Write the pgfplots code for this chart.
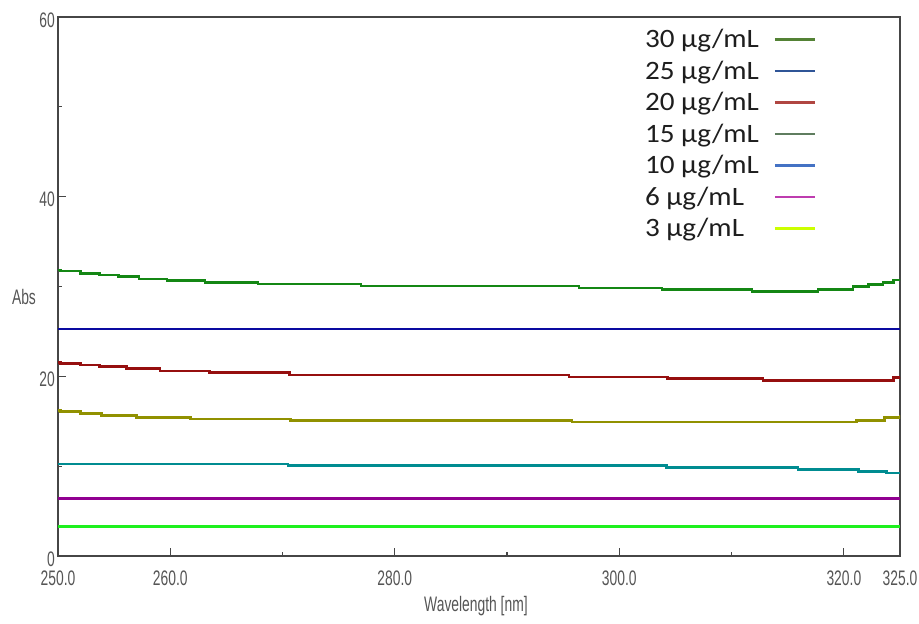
\documentclass[border=0pt]{standalone}
\usepackage{fontspec}
\usepackage{pgfplots}
\usepackage{pgfplotstable}
\pgfplotsset{compat=1.18}
\newfontfamily\tickfont[FakeStretch=0.66]{Liberation Sans}
\newfontfamily\legfont[FakeStretch=1.1]{Carlito}

\definecolor{tickgray}{RGB}{85,85,85}
\definecolor{axgray}{RGB}{70,70,70}
\definecolor{cA}{RGB}{20,135,20}
\definecolor{cB}{RGB}{10,10,160}
\definecolor{cC}{RGB}{150,15,15}
\definecolor{cD}{RGB}{145,145,0}
\definecolor{cE}{RGB}{0,140,145}
\definecolor{cF}{RGB}{145,0,145}
\definecolor{cG}{RGB}{30,240,30}
\definecolor{lA}{RGB}{84,130,53}
\definecolor{lB}{RGB}{47,85,151}
\definecolor{lC}{RGB}{176,70,65}
\definecolor{lD}{RGB}{95,125,95}
\definecolor{lE}{RGB}{68,114,196}
\definecolor{lF}{RGB}{190,60,175}
\definecolor{lG}{RGB}{204,255,0}

\pgfplotstableread{
x y
250.0 31.85
250.2 31.73
252.0 31.47
253.7 31.28
255.4 31.09
257.2 30.84
259.7 30.65
263.1 30.47
267.8 30.30
277.0 30.06
296.4 29.85
303.8 29.68
311.8 29.46
317.7 29.68
320.8 29.98
322.2 30.24
323.5 30.43
324.4 30.72
325.0 30.85
}\dA
\pgfplotstableread{
x y
250.0 25.25
325.0 25.25
}\dB
\pgfplotstableread{
x y
250.0 21.56
250.2 21.45
252.0 21.26
253.7 21.08
256.1 20.86
259.1 20.60
263.5 20.41
270.6 20.15
295.5 19.93
304.3 19.74
312.8 19.56
324.4 19.85
325.0 19.95
}\dC
\pgfplotstableread{
x y
250.0 16.18
250.2 16.07
252.0 15.89
253.9 15.66
257.0 15.44
261.8 15.25
270.7 15.10
295.8 14.90
321.1 15.10
323.6 15.40
325.0 15.65
}\dD
\pgfplotstableread{
x y
250.0 10.24
270.5 10.05
304.2 9.83
315.9 9.61
321.3 9.43
323.8 9.24
325.0 9.24
}\dE
\pgfplotstableread{
x y
250.0 6.38
325.0 6.38
}\dF
\pgfplotstableread{
x y
250.0 3.26
325.0 3.26
}\dG

\begin{document}
\begin{tikzpicture}
\useasboundingbox (-58pt,-68pt) rectangle (861pt,556pt);
\begin{axis}[
  scale only axis,
  width=842pt, height=539pt,
  xmin=250, xmax=325, ymin=0, ymax=60,
  axis line style={draw=axgray, line width=1.4pt},
  tick style={draw=axgray, line width=1.2pt},
  tick pos=left, tick align=inside,
  major tick length=8pt, minor tick length=4pt,
  xtick={250,260,280,300,320,325},
  xticklabels={250.0,260.0,280.0,300.0,320.0,325.0},
  minor xtick={270,290,310},
  ytick={0,20,40,60},
  yticklabels={0,20,40,60},
  minor ytick={10,30,50},
  ticklabel style={font=\tickfont\fontsize{21}{24}\selectfont, text=tickgray, inner sep=0pt},
  yticklabel style={xshift=-3pt, yshift=-3pt},
  xticklabel style={yshift=-15pt},
  xlabel={Wavelength [nm]},
  ylabel={Abs},
  every axis x label/.style={at={(axis description cs:0.4964,-0.0928)}, anchor=center,
    font=\tickfont\fontsize{21}{24}\selectfont, text=tickgray},
  every axis y label/.style={at={(axis description cs:-0.0404,0.4805)}, anchor=center,
    font=\tickfont\fontsize{21}{24}\selectfont, text=tickgray},
  legend plot pos=right,
  legend cell align=left,
  legend image code/.code={\draw[#1] (0pt,2pt) -- (40pt,2pt);},
  legend style={at={(axis description cs:0.697,0.977)}, anchor=north west,
    draw=none, fill=none, inner sep=0pt,
    font=\legfont\fontsize{26.5}{30}\selectfont, text={rgb,255:red,30;green,30;blue,30},
    column sep=15pt, row sep=7.5pt,
    nodes={inner sep=0pt, text height=18pt, text depth=6pt}},
]
\addlegendimage{lA, line width=2.2pt}
\addlegendentry{30 μg/mL}
\addlegendimage{lB, line width=2.2pt}
\addlegendentry{25 μg/mL}
\addlegendimage{lC, line width=2.2pt}
\addlegendentry{20 μg/mL}
\addlegendimage{lD, line width=2.2pt}
\addlegendentry{15 μg/mL}
\addlegendimage{lE, line width=2.2pt}
\addlegendentry{10 μg/mL}
\addlegendimage{lF, line width=2.2pt}
\addlegendentry{6 μg/mL}
\addlegendimage{lG, line width=2.2pt}
\addlegendentry{3 μg/mL}

\addplot[const plot, cG, line width=2.6pt, forget plot] table {\dG};
\addplot[const plot, cF, line width=2.6pt, forget plot] table {\dF};
\addplot[const plot, cE, line width=2.6pt, forget plot] table {\dE};
\addplot[const plot, cD, line width=2.6pt, forget plot] table {\dD};
\addplot[const plot, cC, line width=2.6pt, forget plot] table {\dC};
\addplot[const plot, cB, line width=2.6pt, forget plot] table {\dB};
\addplot[const plot, cA, line width=2.6pt, forget plot] table {\dA};
\end{axis}
\end{tikzpicture}
\end{document}
